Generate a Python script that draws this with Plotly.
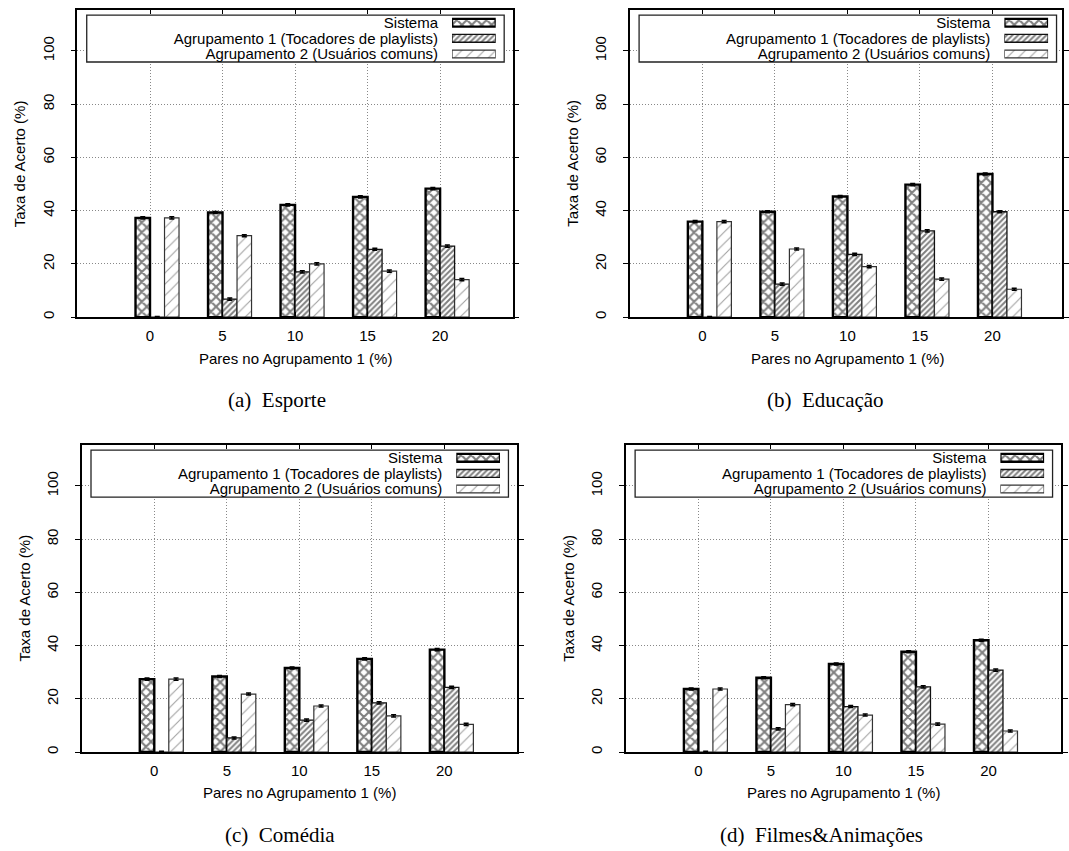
import plotly.graph_objects as go

W, H = 1069, 851

# ---------------- data ----------------
categories = ["0", "5", "10", "15", "20"]
series_names = ["Sistema",
                "Agrupamento 1 (Tocadores de playlists)",
                "Agrupamento 2 (Usuários comuns)"]
y_ticks = [0, 20, 40, 60, 80, 100]

esporte_sistema = [37.3, 39.3, 42.2, 45.2, 48.3]
esporte_agrup1 = [0.0, 6.8, 17.0, 25.5, 26.7]
esporte_agrup2 = [37.3, 30.6, 20.0, 17.3, 14.1]

educacao_sistema = [35.9, 39.6, 45.3, 49.8, 53.8]
educacao_agrup1 = [0.0, 12.4, 23.6, 32.4, 39.6]
educacao_agrup2 = [35.9, 25.6, 19.0, 14.3, 10.5]

comedia_sistema = [27.4, 28.4, 31.6, 35.0, 38.5]
comedia_agrup1 = [0.0, 5.3, 12.0, 18.5, 24.3]
comedia_agrup2 = [27.4, 21.8, 17.3, 13.6, 10.4]

filmes_sistema = [23.7, 27.9, 33.1, 37.7, 42.0]
filmes_agrup1 = [0.0, 8.7, 17.1, 24.5, 30.8]
filmes_agrup2 = [23.7, 17.8, 13.9, 10.5, 7.9]

err_sistema = [0.4, 0.4, 0.4, 0.4, 0.4]
err_agrup1 = [0.3, 0.4, 0.4, 0.4, 0.4]
err_agrup2 = [0.4, 0.4, 0.4, 0.4, 0.4]

captions = ["(a)\u2002Esporte", "(b)\u2002Educação", "(c)\u2002Comédia", "(d)\u2002Filmes&Animações"]
x_title = "Pares no Agrupamento 1 (%)"
y_title = "Taxa de Acerto (%)"

panel_data = [
    [esporte_sistema, esporte_agrup1, esporte_agrup2],
    [educacao_sistema, educacao_agrup1, educacao_agrup2],
    [comedia_sistema, comedia_agrup1, comedia_agrup2],
    [filmes_sistema, filmes_agrup1, filmes_agrup2],
]
errs = [err_sistema, err_agrup1, err_agrup2]

# ---------------- styling / layout ----------------
SANS = "Liberation Sans, Arial, sans-serif"
SERIF = "Liberation Serif, Times New Roman, serif"
FS = 15
SPACING = 73.0  # px per group
YMAX = 115.5

# pixel geometry of each panel: left, top, right, bottom, caption-x
geom = [
    (78.0, 8.7, 516.0, 317.3, 278.5),
    (634.0, 8.7, 1069.0, 317.3, 831.0),
    (82.3, 445.3, 520.3, 753.7, 282.0),
    (630.0, 445.3, 1068.0, 753.7, 827.0),
]
# the "ideal" right edge (panel b is clipped by the page)
ideal_right = [516.0, 1072.0, 520.3, 1068.0]

styles = [
    dict(marker=dict(color="white",
                     pattern=dict(shape="x", size=7, solidity=0.5, fgcolor="black", bgcolor="white"),
                     line=dict(color="black", width=2.4))),
    dict(marker=dict(color="white",
                     pattern=dict(shape="/", size=4, solidity=0.5, fgcolor="black", bgcolor="white"),
                     line=dict(color="#111", width=1.3))),
    dict(marker=dict(color="white",
                     pattern=dict(shape="/", size=8, solidity=0.14, fgcolor="#444", bgcolor="white"),
                     line=dict(color="#333", width=1.2))),
]
offsets = [-0.2, 0.0, 0.2]

fig = go.Figure()
layout = dict(
    width=W, height=H,
    margin=dict(l=0, r=0, t=0, b=0),
    paper_bgcolor="white",
    plot_bgcolor="rgba(0,0,0,0)",
    showlegend=False,
    font=dict(family=SANS, size=FS, color="black"),
    shapes=[], annotations=[],
)

for p, (l, t, r, b, capx) in enumerate(geom):
    ax = p + 1
    lx = p + 5
    xs = "" if ax == 1 else str(ax)
    xname, yname = "x" + xs, "y" + xs
    lxname, lyname = "x" + str(lx), "y" + str(lx)

    xmax = -1 + (r - l) / SPACING
    ppu = (b - t) / YMAX
    layout["xaxis" + xs] = dict(
        domain=[l / W, min(r / W, 1.0)], anchor=yname,
        range=[-1, xmax], tickvals=list(range(len(categories))), ticktext=categories,
        ticks="inside", ticklen=5, tickcolor="black", mirror="ticks",
        showline=True, linecolor="black", linewidth=1.5,
        showgrid=True, gridcolor="#888", griddash="1px,2px", gridwidth=1,
        zeroline=False, tickfont=dict(size=FS, family=SANS), ticklabelstandoff=4,
    )
    layout["yaxis" + xs] = dict(
        domain=[1 - b / H, 1 - t / H], anchor=xname,
        range=[0, YMAX], tickvals=y_ticks,
        ticks="outside", ticklen=5, tickcolor="black", mirror="ticks",
        showline=True, linecolor="black", linewidth=1.5,
        showgrid=True, gridcolor="#888", griddash="1px,2px", gridwidth=1,
        zeroline=False, tickangle=-90, tickfont=dict(size=FS, family=SANS),
        ticklabelstandoff=11,
    )

    for s in range(3):
        fig.add_trace(go.Bar(
            x=list(range(len(categories))), y=panel_data[p][s],
            width=0.2, offset=offsets[s],
            error_y=dict(type="data", array=errs[s], color="black", thickness=1.5, width=2.5),
            xaxis=xname, yaxis=yname, name=series_names[s],
            **styles[s],
        ))

    # legend box (white, above grid, below traces) in the panel's own axis units
    R = ideal_right[p]
    layout["shapes"].append(dict(
        type="rect", xref=xname, yref=yname,
        x0=-1 + 9.3 / SPACING, x1=-1 + (R - 8.5 - l) / SPACING,
        y0=(b - t - 52.5) / ppu, y1=(b - t - 5.5) / ppu,
        fillcolor="white", line=dict(color="#222", width=1.3), layer="between",
    ))

    # legend key subplot
    layout["xaxis" + str(lx)] = dict(
        domain=[(R - 61) / W, (R - 17) / W], anchor=lyname, range=[0, 1], visible=False,
    )
    layout["yaxis" + str(lx)] = dict(
        domain=[1 - (t + 52.3) / H, 1 - (t + 5.3) / H], anchor=lxname,
        type="category", categoryorder="array", categoryarray=series_names,
        tickmode="array", tickvals=series_names, ticktext=series_names,
        range=[2.5, -0.5], showgrid=False, showline=False, zeroline=False, ticks="",
        tickfont=dict(size=FS, family=SANS), ticklabelstandoff=13,
    )
    for s in range(3):
        fig.add_trace(go.Bar(
            orientation="h", y=[series_names[s]], x=[1], width=0.5,
            xaxis=lxname, yaxis=lyname, name=series_names[s], hoverinfo="skip",
            **styles[s],
        ))

    # axis titles and caption
    layout["annotations"].append(dict(
        text=y_title, xref="paper", yref="paper", x=(l - 58) / W, y=1 - ((t + b) / 2) / H,
        xanchor="center", yanchor="middle", textangle=-90, showarrow=False,
        font=dict(family=SANS, size=FS),
    ))
    layout["annotations"].append(dict(
        text=x_title, xref="paper", yref="paper", x=((l + ideal_right[p]) / 2) / W, y=1 - (b + 41) / H,
        xanchor="center", yanchor="middle", showarrow=False,
        font=dict(family=SANS, size=FS),
    ))
    layout["annotations"].append(dict(
        text=captions[p], xref="paper", yref="paper", x=capx / W, y=1 - (b + 83) / H,
        xanchor="center", yanchor="middle", showarrow=False,
        font=dict(family=SERIF, size=21),
    ))

fig.update_layout(**layout)
fig.write_html("out.html")
